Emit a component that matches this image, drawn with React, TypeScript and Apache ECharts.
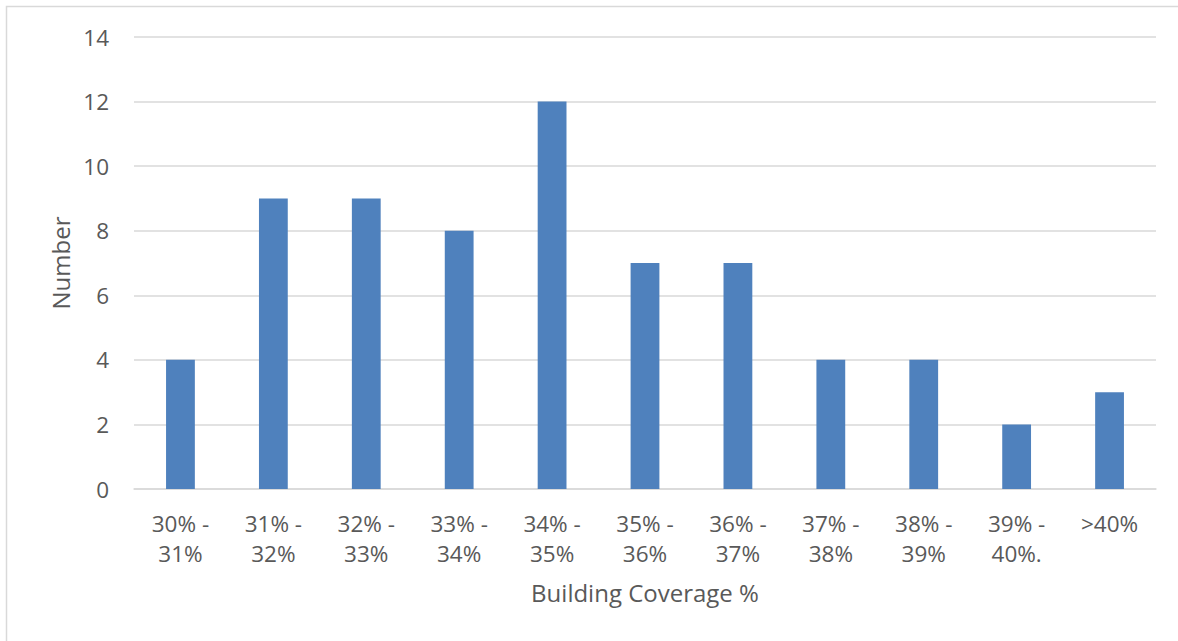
import React, { useEffect, useRef } from "react";
import * as echarts from "echarts";

const categories = [
  "30% -\n31%",
  "31% -\n32%",
  "32% -\n33%",
  "33% -\n34%",
  "34% -\n35%",
  "35% -\n36%",
  "36% -\n37%",
  "37% -\n38%",
  "38% -\n39%",
  "39% -\n40%.",
  ">40%",
];
const counts = [4, 9, 9, 8, 12, 7, 7, 4, 4, 2, 3];

const FONT = "'Open Sans', sans-serif";
const TEXT = "#595959";

export default function App() {
  const ref = useRef<HTMLDivElement>(null);
  useEffect(() => {
    if (!ref.current) return;
    const chart = echarts.init(ref.current, undefined, { renderer: "svg" });
    chart.setOption({
      animation: false,
      backgroundColor: "#ffffff",
      textStyle: { fontFamily: FONT },
      graphic: [
        {
          type: "rect",
          shape: { x: 6.5, y: 6.5, width: 1300, height: 800 },
          style: { fill: "none", stroke: "#d9d9d9", lineWidth: 1.5 },
          silent: true,
        },
      ],
      grid: { left: 134, right: 22, top: 37, bottom: 152, containLabel: false },
      xAxis: {
        type: "category",
        data: categories,
        axisLine: { lineStyle: { color: "#d9d9d9", width: 1.5 } },
        axisTick: { show: false },
        axisLabel: {
          color: TEXT,
          fontFamily: FONT,
          fontSize: 22.5,
          lineHeight: 30,
          margin: 19,
          interval: 0,
        },
        name: "Building Coverage %",
        nameLocation: "middle",
        nameGap: 91,
        nameTextStyle: { color: TEXT, fontFamily: FONT, fontSize: 24 },
      },
      yAxis: {
        type: "value",
        min: 0,
        max: 14,
        interval: 2,
        axisLine: { show: false },
        axisTick: { show: false },
        splitLine: { lineStyle: { color: "#d9d9d9", width: 1.5 } },
        axisLabel: { color: TEXT, fontFamily: FONT, fontSize: 22.5, margin: 25 },
        name: "Number",
        nameLocation: "middle",
        nameGap: 61,
        nameRotate: 90,
        nameTextStyle: { color: TEXT, fontFamily: FONT, fontSize: 24 },
      },
      series: [
        {
          type: "bar",
          data: counts,
          barCategoryGap: "69%",
          itemStyle: { color: "#4f81bd" },
        },
      ],
    });
    return () => chart.dispose();
  }, []);
  return (
    <div
      ref={ref}
      style={{ position: "fixed", left: 0, top: 0, width: 1178, height: 641 }}
    />
  );
}
